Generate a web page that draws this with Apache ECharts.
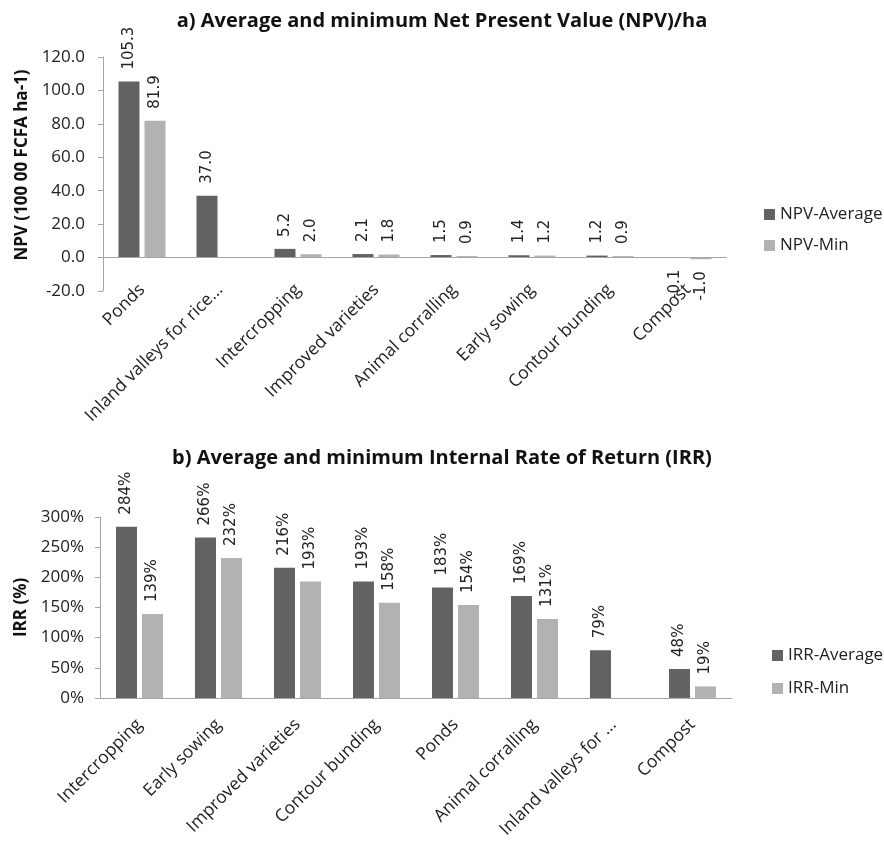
<!DOCTYPE html>
<html>
<head>
<meta charset="utf-8">
<script src="https://cdn.jsdelivr.net/npm/echarts@6/dist/echarts.min.js"></script>
<style>
  html, body { margin: 0; padding: 0; background: #fff; }
  #chart { width: 884px; height: 841px; }
</style>
</head>
<body>
<div id="chart"></div>
<script>
// a) NPV per ha
const npvCategories = ['Ponds', 'Inland valleys for rice...', 'Intercropping', 'Improved varieties',
  'Animal corralling', 'Early sowing', 'Contour bunding', 'Compost']
const npvAverage = [105.3, 37.0, 5.2, 2.1, 1.5, 1.4, 1.2, -0.1]
const npvMin = [81.9, null, 2.0, 1.8, 0.9, 1.2, 0.9, -1.0]

// b) IRR in %
const irrCategories = ['Intercropping', 'Early sowing', 'Improved varieties', 'Contour bunding',
  'Ponds', 'Animal corralling', 'Inland valleys for ...', 'Compost']
const irrAverage = [284, 266, 216, 193, 183, 169, 79, 48]
const irrMin = [139, 232, 193, 158, 154, 131, null, 19]

const darkGrey = '#626262'
const lightGrey = '#b2b2b2'
const axisGrey = '#a6a6a6'
const textFont = 'Open Sans'
const labelFont = 'DejaVu Sans'

// negative values get their label under the bar, like Excel does
const toBarData = (list) => list.map(v => {
  if (v === null) return '-'
  if (v < 0) return {value: v, label: {position: 'bottom', align: 'right'}}
  return v
})

const barLabel = (fmt) => ({
  show: true,
  position: 'top',
  rotate: 90,
  align: 'left',
  verticalAlign: 'middle',
  distance: 12,
  fontFamily: labelFont,
  fontSize: 15,
  color: '#222',
  formatter: fmt
})

const catAxisLabel = (margin) => ({
  rotate: 45,
  interval: 0,
  margin: margin,
  fontFamily: textFont,
  fontSize: 17.5,
  color: '#222'
})

const valAxisLabel = {
  fontFamily: textFont,
  fontSize: 17,
  color: '#222'
}

let chart = echarts.init(document.getElementById('chart'))
let option = {
  animation: false,
  title: [
    {
      text: 'a) Average and minimum Net Present Value (NPV)/ha',
      left: 'center',
      top: 6,
      textStyle: {fontFamily: textFont, fontSize: 20, fontWeight: 'bold', color: '#111'}
    },
    {
      text: 'b) Average and minimum Internal Rate of Return (IRR)',
      left: 'center',
      top: 443,
      textStyle: {fontFamily: textFont, fontSize: 20, fontWeight: 'bold', color: '#111'}
    }
  ],
  legend: [
    {
      data: ['NPV-Average', 'NPV-Min'],
      orient: 'vertical',
      left: 759,
      top: 201,
      itemWidth: 11,
      itemHeight: 11,
      itemGap: 14,
      icon: 'rect',
      textStyle: {fontFamily: textFont, fontSize: 17, color: '#222'}
    },
    {
      data: ['IRR-Average', 'IRR-Min'],
      orient: 'vertical',
      left: 767,
      top: 642,
      itemWidth: 11,
      itemHeight: 11,
      itemGap: 16,
      icon: 'rect',
      textStyle: {fontFamily: textFont, fontSize: 17, color: '#222'}
    }
  ],
  grid: [
    {left: 103, right: 157, top: 57, height: 234},
    {left: 100, right: 152, top: 517, height: 186}
  ],
  xAxis: [
    {
      type: 'category',
      gridIndex: 0,
      data: npvCategories,
      axisLine: {show: false, onZero: false},
      axisTick: {show: false},
      axisLabel: catAxisLabel(-4)
    },
    {
      type: 'category',
      gridIndex: 1,
      data: irrCategories,
      axisLine: {show: true, lineStyle: {color: axisGrey}},
      axisTick: {show: false},
      axisLabel: catAxisLabel(24)
    }
  ],
  yAxis: [
    {
      type: 'value',
      gridIndex: 0,
      min: -20,
      max: 120,
      interval: 20,
      name: 'NPV (100 00 FCFA ha-1)',
      nameLocation: 'middle',
      nameGap: 71,
      nameTextStyle: {fontFamily: textFont, fontSize: 17, fontWeight: 'bold', color: '#111', padding: [0, 0, 0, 18]},
      axisLine: {show: true, lineStyle: {color: axisGrey}},
      axisTick: {show: true, length: 5, lineStyle: {color: axisGrey}},
      splitLine: {show: false},
      axisLabel: Object.assign({}, valAxisLabel, {margin: 18, formatter: v => v.toFixed(1)})
    },
    {
      type: 'value',
      gridIndex: 1,
      min: 0,
      max: 300,
      interval: 50,
      name: 'IRR (%)',
      nameLocation: 'middle',
      nameGap: 70,
      nameTextStyle: {fontFamily: textFont, fontSize: 17, fontWeight: 'bold', color: '#111'},
      axisLine: {show: true, lineStyle: {color: axisGrey}},
      axisTick: {show: true, length: 5, lineStyle: {color: axisGrey}},
      splitLine: {show: false},
      axisLabel: Object.assign({}, valAxisLabel, {margin: 16, formatter: '{value}%'})
    }
  ],
  series: [
    {
      name: 'NPV-Average',
      type: 'bar',
      xAxisIndex: 0,
      yAxisIndex: 0,
      barWidth: 21,
      barGap: '24%',
      itemStyle: {color: darkGrey},
      label: barLabel(p => p.value.toFixed(1)),
      data: toBarData(npvAverage),
      markLine: {
        silent: true,
        symbol: 'none',
        label: {show: false},
        lineStyle: {color: axisGrey, type: 'solid', width: 1},
        data: [{yAxis: 0}]
      }
    },
    {
      name: 'NPV-Min',
      type: 'bar',
      xAxisIndex: 0,
      yAxisIndex: 0,
      barWidth: 21,
      barGap: '24%',
      itemStyle: {color: lightGrey},
      label: barLabel(p => p.value.toFixed(1)),
      data: toBarData(npvMin)
    },
    {
      name: 'IRR-Average',
      type: 'bar',
      xAxisIndex: 1,
      yAxisIndex: 1,
      barWidth: 21,
      barGap: '24%',
      itemStyle: {color: darkGrey},
      label: barLabel('{c}%'),
      data: toBarData(irrAverage)
    },
    {
      name: 'IRR-Min',
      type: 'bar',
      xAxisIndex: 1,
      yAxisIndex: 1,
      barWidth: 21,
      barGap: '24%',
      itemStyle: {color: lightGrey},
      label: barLabel('{c}%'),
      data: toBarData(irrMin)
    }
  ]
}
option && chart.setOption(option)
</script>
</body>
</html>
